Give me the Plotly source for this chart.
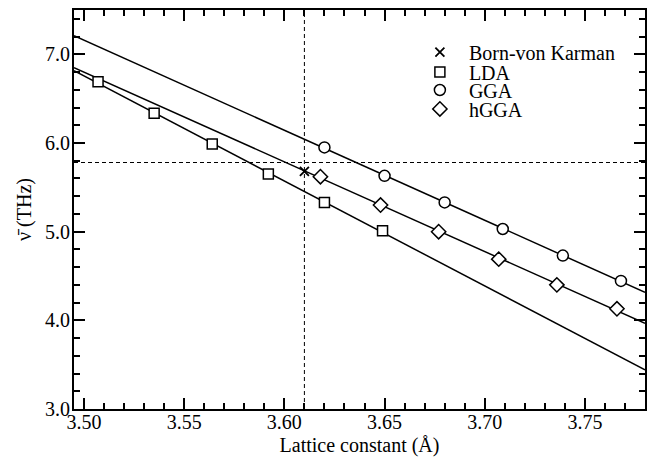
import numpy as np
import plotly.graph_objects as go

# ---- data ----
lda_a = [3.507, 3.535, 3.564, 3.592, 3.620, 3.649]
lda_nu = [6.69, 6.335, 5.99, 5.65, 5.33, 5.01]
gga_a = [3.620, 3.650, 3.680, 3.709, 3.739, 3.768]
gga_nu = [5.95, 5.63, 5.33, 5.03, 4.73, 4.445]
hgga_a = [3.618, 3.648, 3.677, 3.707, 3.736, 3.766]
hgga_nu = [5.62, 5.30, 5.0, 4.69, 4.40, 4.13]
bvk_a = [3.61]
bvk_nu = [5.68]
ref_a = 3.61      # vertical dashed reference (experimental lattice constant)
ref_nu = 5.78     # horizontal dashed reference (experimental frequency)
x_range = [3.495, 3.78]
y_range = [3.0, 7.5]

FONT = "Liberation Serif"

fig = go.Figure()

# linear fits across the full axis range
x_fit = np.array(x_range)
for xs, ys in [(gga_a, gga_nu), (hgga_a, hgga_nu), (lda_a, lda_nu)]:
    m, c = np.polyfit(xs, ys, 1)
    fig.add_trace(go.Scatter(x=x_fit, y=m * x_fit + c, mode="lines",
                             line=dict(color="black", width=1.5),
                             showlegend=False, hoverinfo="skip"))

# reference dashed lines
fig.add_vline(x=ref_a, line=dict(color="black", width=1, dash="4px,3px"))
fig.add_hline(y=ref_nu, line=dict(color="black", width=1, dash="4px,3px"))

mk = dict(color="white", line=dict(color="black", width=1.5))
fig.add_trace(go.Scatter(x=bvk_a, y=bvk_nu, mode="markers", name="Born-von Karman",
                         legend="legend",
                         marker=dict(symbol="x-thin", size=9, color="black",
                                     line=dict(color="black", width=1.8))))
fig.add_trace(go.Scatter(x=lda_a, y=lda_nu, mode="markers", name="LDA",
                         legend="legend2",
                         marker=dict(symbol="square", size=10, **mk)))
fig.add_trace(go.Scatter(x=gga_a, y=gga_nu, mode="markers", name="GGA",
                         legend="legend3",
                         marker=dict(symbol="circle", size=11, **mk)))
fig.add_trace(go.Scatter(x=hgga_a, y=hgga_nu, mode="markers", name="hGGA",
                         legend="legend4",
                         marker=dict(symbol="diamond", size=11, **mk)))

axis_common = dict(showgrid=False, zeroline=False, showline=True, linecolor="black",
                   linewidth=2, mirror="allticks", ticks="inside", ticklen=11,
                   tickwidth=1.5, tickcolor="black", automargin=False,
                   tickfont=dict(family=FONT, size=20, color="black"))

fig.update_xaxes(range=x_range, tick0=3.5, dtick=0.05, tickformat=".2f",
                 ticklabelstandoff=-6,
                 minor=dict(dtick=0.01, ticks="inside", ticklen=6, tickwidth=1.5,
                            tickcolor="black"),
                 title=dict(text="Lattice constant (Å)",
                            font=dict(family=FONT, size=20, color="black"), standoff=6),
                 **axis_common)
fig.update_yaxes(range=y_range, tick0=3.0, dtick=1.0, tickformat=".1f",
                 ticklabelstandoff=-2,
                 minor=dict(dtick=0.2, ticks="inside", ticklen=6, tickwidth=1.5,
                            tickcolor="black"),
                 title=dict(text="\u03bd\u0304 (THz)",
                            font=dict(family=FONT, size=20, color="black"), standoff=8),
                 **axis_common)

leg = dict(x=0.59, xanchor="left", yanchor="middle", bgcolor="rgba(0,0,0,0)",
           borderwidth=0, itemwidth=48,
           font=dict(family=FONT, size=20, color="black"))
fig.update_layout(
    width=652, height=462,
    margin=dict(l=74, r=7, t=10, b=53),
    plot_bgcolor="white", paper_bgcolor="white",
    font=dict(family=FONT, size=20, color="black"),
    legend=dict(y=0.8947, **leg),
    legend2=dict(y=0.8446, **leg),
    legend3=dict(y=0.7995, **leg),
    legend4=dict(y=0.7519, **leg),
)

fig.write_html("out.html", config={"displayModeBar": False},
               post_script="document.body.style.margin='0';")
